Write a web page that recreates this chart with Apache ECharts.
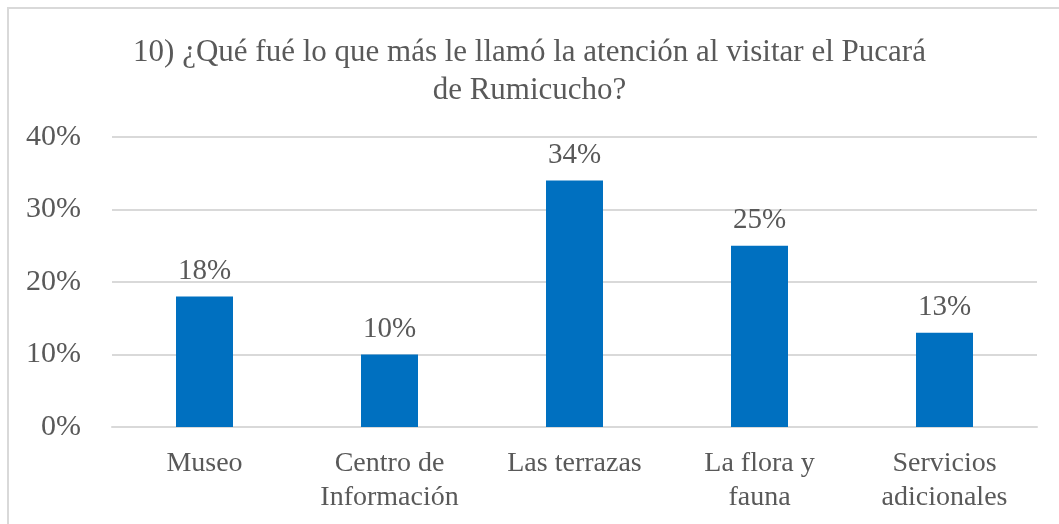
<!DOCTYPE html>
<html>
<head>
    <meta charset="utf-8" />
    <title>Pucará de Rumicucho</title>
    <script src="https://cdn.jsdelivr.net/npm/echarts@6/dist/echarts.min.js"></script>
    <style>
        html, body { margin: 0; padding: 0; background: #fff; }
        #frame {
            position: absolute; left: 7px; top: 7px; width: 1100px; height: 600px;
            border-left: 2px solid #d9d9d9; border-top: 2px solid #d9d9d9;
        }
        #main { position: absolute; left: 0; top: 0; width: 1059px; height: 524px; }
    </style>
</head>
<body>
    <div id="frame"></div>
    <div id="main"></div>
    <script type="text/javascript">
        var titleLines = ['10) ¿Qué fué lo que más le llamó la atención al visitar el Pucará', 'de Rumicucho?'];
        var categories = ['Museo', 'Centro de\nInformación', 'Las terrazas', 'La flora y\nfauna', 'Servicios\nadicionales'];
        var values = [18, 10, 34, 25, 13];
        var yTicks = [0, 10, 20, 30, 40];

        var serif = '"Liberation Serif", "Times New Roman", serif';
        var textColor = '#595959';

        var myChart = echarts.init(document.getElementById('main'), null, { renderer: 'canvas' });
        var option = {
            backgroundColor: 'transparent',
            animation: false,
            title: {
                text: titleLines.join('\n'),
                left: 'center',
                top: 29,
                textStyle: { fontFamily: serif, fontSize: 31, fontWeight: 'normal', color: textColor, lineHeight: 38 }
            },
            grid: { left: 112, right: 22, top: 137, bottom: 97, containLabel: false },
            xAxis: {
                type: 'category',
                data: categories,
                axisLine: { lineStyle: { color: '#d9d9d9', width: 2 } },
                axisTick: { show: false },
                axisLabel: {
                    interval: 0, hideOverlap: false,
                    fontFamily: serif, fontSize: 28, color: textColor, margin: 20, lineHeight: 34
                }
            },
            yAxis: {
                type: 'value',
                min: yTicks[0],
                max: yTicks[yTicks.length - 1],
                interval: 10,
                axisLine: { show: false },
                axisTick: { show: false },
                splitLine: { lineStyle: { color: '#d9d9d9', width: 2 } },
                axisLabel: { fontFamily: serif, fontSize: 30, color: textColor, margin: 31, formatter: '{value}%' }
            },
            series: [
                {
                    type: 'bar',
                    data: values,
                    barWidth: 57,
                    itemStyle: { color: '#0070c0' },
                    label: {
                        show: true,
                        position: 'top',
                        distance: 11,
                        formatter: '{c}%',
                        fontFamily: serif,
                        fontSize: 29,
                        color: textColor
                    }
                }]
        };
        myChart.setOption(option);
    </script>
</body>
</html>
